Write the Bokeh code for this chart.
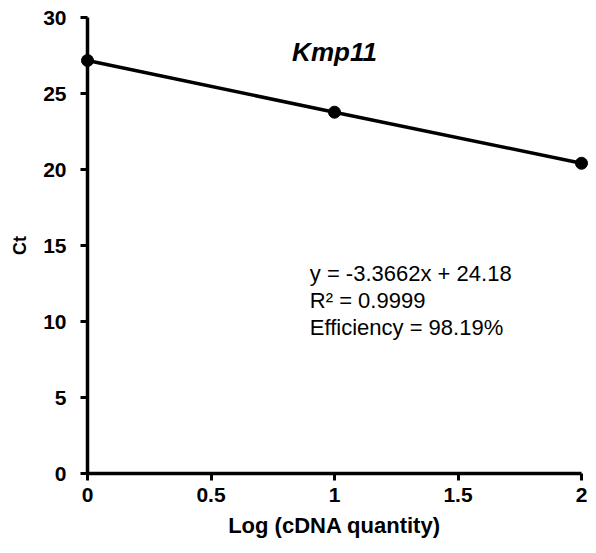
from bokeh.plotting import figure
from bokeh.models import Label, FixedTicker
from bokeh.embed import file_html
from bokeh.resources import INLINE

# data
log_qty = [0, 1, 2]
ct_values = [27.17, 23.77, 20.41]
x_ticks = [0, 0.5, 1, 1.5, 2]
y_ticks = [0, 5, 10, 15, 20, 25, 30]
x_tick_labels = {0: "0", 0.5: "0.5", 1: "1", 1.5: "1.5", 2: "2"}
title_text = "Kmp11"
annot_lines = ["y = -3.3662x + 24.18", "R\u00b2 = 0.9999", "Efficiency = 98.19%"]

FONT = "Liberation Sans"

p = figure(width=590, height=545, x_range=(0, 2), y_range=(0, 30),
           output_backend="svg", toolbar_location=None,
           min_border_left=87, min_border_right=9, min_border_top=17, min_border_bottom=72)
p.outline_line_color = None
p.grid.visible = False
p.background_fill_color = "white"
p.border_fill_color = "white"

for ax in (p.xaxis[0], p.yaxis[0]):
    ax.axis_line_width = 3.5
    ax.axis_line_color = "black"
    ax.major_tick_line_width = 3
    ax.major_tick_line_color = "black"
    ax.major_tick_out = 7
    ax.major_tick_in = 0
    ax.minor_tick_line_color = None
    ax.major_label_text_font = FONT
    ax.major_label_text_font_style = "bold"
    ax.major_label_text_font_size = "21px"
    ax.major_label_text_color = "black"
    ax.axis_label_text_font = FONT
    ax.axis_label_text_font_style = "bold"
    ax.axis_label_text_color = "black"

p.xaxis[0].ticker = FixedTicker(ticks=x_ticks)
p.xaxis[0].major_label_overrides = x_tick_labels
p.xaxis[0].major_label_standoff = 7
p.xaxis[0].axis_label = "Log (cDNA quantity)"
p.xaxis[0].axis_label_text_font_size = "22px"
p.xaxis[0].axis_label_standoff = 8

p.yaxis[0].ticker = FixedTicker(ticks=y_ticks)
p.yaxis[0].major_label_standoff = 14
p.yaxis[0].axis_label = "Ct"
p.yaxis[0].axis_label_text_font_size = "18px"
p.yaxis[0].axis_label_standoff = 10

ln = p.line(log_qty, ct_values, line_color="black", line_width=3.5)
pts = p.scatter(log_qty, ct_values, size=12, fill_color="black", line_color="black")
ln.level = "overlay"
pts.level = "overlay"

p.add_layout(Label(x=1, y=27.7, text=title_text, text_font=FONT, text_font_style="bold italic",
                   text_font_size="26px", text_align="center", text_baseline="middle",
                   text_color="black"))

annot_y = [13.14, 11.36, 9.58]
for t, yy in zip(annot_lines, annot_y):
    p.add_layout(Label(x=0.9, y=yy, text=t, text_font=FONT, text_font_size="22px",
                       text_align="left", text_baseline="middle", text_color="black"))

open("out.html", "w").write(file_html(p, INLINE))
